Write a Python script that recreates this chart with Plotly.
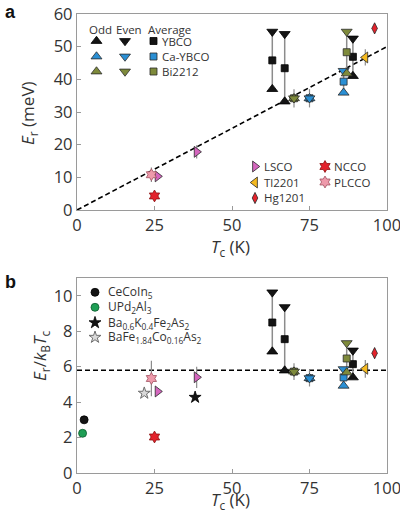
import plotly.graph_objects as go

# ---------------- data ----------------
x_ticks = [0, 25, 50, 75, 100]
ya_ticks = [0, 10, 20, 30, 40, 50, 60]
yb_ticks = [0, 2, 4, 6, 8, 10]

# panel a : E_r (meV)
ybco_tc = [63, 67, 89]
ybco_odd_a = [37.0, 33.2, 41.0]
ybco_even_a = [54.6, 53.9, 52.5]
ybco_avg_a = [45.8, 43.4, 46.9]

ca_tc = [75, 86]
ca_odd_a = [34.2, 35.9]
ca_even_a = [34.2, 42.6]
ca_avg_a = [34.2, 39.3]
ca_err_a = [2.8, 0]

bi_tc = [70, 87]
bi_odd_a = [34.2, 41.8]
bi_even_a = [34.2, 54.6]
bi_avg_a = [34.2, 48.3]
bi_err_a = [2.8, 0]

lsco_tc = [26, 38.6]
lsco_a = [10.3, 17.8]
lsco_err_a = [0, 2.0]

tl_tc = [93]
tl_a = [46.7]
tl_err_a = [2.5]

hg_tc = [96]
hg_a = [55.6]
hg_err_a = [1.5]

ncco_tc = [25]
ncco_a = [4.3]
ncco_err_a = [1.1]

plcco_tc = [24]
plcco_a = [10.8]
plcco_err_a = [2.2]

guide_x = [0, 100]
guide_a = [0, 50]

# panel b : E_r / k_B T_c
ybco_odd_b = [6.85, 5.78, 5.39]
ybco_even_b = [10.19, 9.36, 6.91]
ybco_avg_b = [8.49, 7.55, 6.14]

ca_odd_b = [5.35, 4.92]
ca_even_b = [5.35, 5.86]
ca_avg_b = [5.35, 5.39]
ca_err_b = [0.47, 0]

bi_odd_b = [5.72, 5.67]
bi_even_b = [5.72, 7.33]
bi_avg_b = [5.72, 6.46]
bi_err_b = [0.47, 0]

lsco_b = [4.6, 5.4]
lsco_err_b = [0, 0.6]
tl_b = [5.88]
tl_err_b = [0.5]
hg_b = [6.76]
hg_err_b = [0.3]
ncco_b = [2.03]
ncco_err_b = [0.2]
plcco_b = [5.33]
plcco_err_b = [1.0]

cecoin_tc = [2.3]
cecoin_b = [3.0]
upd_tc = [1.8]
upd_b = [2.24]
bak_tc = [38.1]
bak_b = [4.27]
bafe_tc = [21.7]
bafe_b = [4.5]

guide_b = [5.8, 5.8]

# ---------------- layout helpers ----------------
W, H = 400, 523
PL, PR, PT, PB = 77, 387, 14, 473          # plot area in pixels
ML, MT, MR, MB = PL, PT, W - PR, H - PB
PW = PR - PL
PH = PB - PT


def fx(px):
    return (px - PL) / PW


def fy(py):
    return (PB - py) / PH


FONT = "Open Sans, sans-serif"
TXT = "#333333"
GREY = "#8c8c8c"

BLACK = "#141414"
BLUE = "#2a8fd4"
OLIVE = "#7e8a3b"
PINK = "#d466be"
GOLD = "#f4b920"
RED = "#e3222b"
ROSE = "#ee9aab"
GREEN = "#1e9e55"
EDGE = "#2a2a2a"
DASH = "5px,3px"

fig = go.Figure()
legends = {}
annos = []
count = [0]


def add(x, y, panel, symbol, color, size, err=None, edge=EDGE, lw=0.8,
        key=None, label=None, label_px=None, lsize=12):
    ax = dict(xaxis="x", yaxis="y") if panel == "a" else dict(xaxis="x2", yaxis="y2")
    tr = go.Scatter(
        x=x, y=y, mode="markers", **ax,
        marker=dict(symbol=symbol, color=color, size=size,
                    line=dict(color=edge, width=lw)),
        showlegend=False, name=label or " ",
        cliponaxis=False,
    )
    if err is not None:
        tr.update(error_y=dict(type="data", array=err, visible=True,
                               color=GREY, thickness=1.2, width=0))
    if key is not None:
        count[0] += 1
        lk = "legend" if count[0] == 1 else f"legend{count[0]}"
        tr.update(showlegend=True, legend=lk, name=" ")
        mx, my = key
        legends[lk] = dict(x=fx(mx - 20), y=fy(my), xanchor="left", yanchor="middle",
                           bgcolor="rgba(0,0,0,0)", borderwidth=0,
                           font=dict(size=10, family=FONT),
                           itemclick=False, itemdoubleclick=False)
        if label is not None:
            annos.append(dict(text=label, x=fx(label_px), y=fy(my), xref="paper",
                              yref="paper", xanchor="left", yanchor="middle",
                              showarrow=False,
                              font=dict(size=lsize, family=FONT, color=TXT)))
    fig.add_trace(tr)


def pair_lines(tcs, odd, even, panel):
    xs, ys = [], []
    for t, o, e in zip(tcs, odd, even):
        xs += [t, t, None]
        ys += [o, e, None]
    ax = dict(xaxis="x", yaxis="y") if panel == "a" else dict(xaxis="x2", yaxis="y2")
    fig.add_trace(go.Scatter(x=xs, y=ys, mode="lines", **ax, showlegend=False,
                             line=dict(color=GREY, width=1.5), hoverinfo="skip"))


# ---------------- panel a ----------------
fig.add_trace(go.Scatter(x=guide_x, y=guide_a, mode="lines", xaxis="x", yaxis="y",
                         showlegend=False,
                         line=dict(color="black", width=1.6, dash=DASH)))
pair_lines(ybco_tc, ybco_odd_a, ybco_even_a, "a")
pair_lines(ca_tc, ca_odd_a, ca_even_a, "a")
pair_lines(bi_tc, bi_odd_a, bi_even_a, "a")

rows = [41, 56.5, 71.5]
cols = [96.5, 125, 153.5]
names = ["YBCO", "Ca-YBCO", "Bi2212"]
groups = [
    (ybco_tc, ybco_odd_a, ybco_even_a, ybco_avg_a, None, BLACK, "#000000"),
    (ca_tc, ca_odd_a, ca_even_a, ca_avg_a, ca_err_a, BLUE, EDGE),
    (bi_tc, bi_odd_a, bi_even_a, bi_avg_a, bi_err_a, OLIVE, EDGE),
]
for i, (tc, od, ev, av, er, col, ed) in enumerate(groups):
    add(tc, av, "a", "square", col, 7, err=er, edge=ed, key=(cols[2], rows[i]),
        label=names[i], label_px=160, lsize=11.5)
    add(tc, od, "a", "triangle-up", col, 9.5, edge=ed, key=(cols[0], rows[i]))
    add(tc, ev, "a", "triangle-down", col, 9.5, edge=ed, key=(cols[1], rows[i]))

add(lsco_tc, lsco_a, "a", "triangle-right", PINK, 9.5, err=lsco_err_a,
    key=(255, 166.5), label="LSCO", label_px=262, lsize=11.5)
add(tl_tc, tl_a, "a", "triangle-left", GOLD, 9.5, err=tl_err_a,
    key=(255, 182.5), label="Tl2201", label_px=262, lsize=11.5)
add(hg_tc, hg_a, "a", "diamond-tall", RED, 8, err=hg_err_a,
    key=(255, 198), label="Hg1201", label_px=262, lsize=11.5)
add(ncco_tc, ncco_a, "a", "hexagram", RED, 9, err=ncco_err_a, edge="#8a1010",
    key=(325, 166.5), label="NCCO", label_px=332, lsize=11.5)
add(plcco_tc, plcco_a, "a", "hexagram", ROSE, 9, err=plcco_err_a, edge="#a05060",
    key=(325, 182), label="PLCCO", label_px=332, lsize=11.5)

for txt, cx in [("Odd", 100), ("Even", 128.5), ("Average", 169)]:
    annos.append(dict(text=txt, x=fx(cx), y=fy(29), xref="paper", yref="paper",
                      xanchor="center", yanchor="middle", showarrow=False,
                      font=dict(size=11.5, family=FONT, color=TXT)))

# ---------------- panel b ----------------
fig.add_trace(go.Scatter(x=guide_x, y=guide_b, mode="lines", xaxis="x2", yaxis="y2",
                         showlegend=False,
                         line=dict(color="black", width=1.6, dash=DASH)))
pair_lines(ybco_tc, ybco_odd_b, ybco_even_b, "b")
pair_lines(ca_tc, ca_odd_b, ca_even_b, "b")
pair_lines(bi_tc, bi_odd_b, bi_even_b, "b")

groups_b = [
    (ybco_tc, ybco_odd_b, ybco_even_b, ybco_avg_b, None, BLACK, "#000000"),
    (ca_tc, ca_odd_b, ca_even_b, ca_avg_b, ca_err_b, BLUE, EDGE),
    (bi_tc, bi_odd_b, bi_even_b, bi_avg_b, bi_err_b, OLIVE, EDGE),
]
for tc, od, ev, av, er, col, ed in groups_b:
    add(tc, av, "b", "square", col, 7, err=er, edge=ed)
    add(tc, od, "b", "triangle-up", col, 9.5, edge=ed)
    add(tc, ev, "b", "triangle-down", col, 9.5, edge=ed)

add(lsco_tc, lsco_b, "b", "triangle-right", PINK, 9.5, err=lsco_err_b)
add(tl_tc, tl_b, "b", "triangle-left", GOLD, 9.5, err=tl_err_b)
add(hg_tc, hg_b, "b", "diamond-tall", RED, 8, err=hg_err_b)
add(ncco_tc, ncco_b, "b", "hexagram", RED, 9, err=ncco_err_b, edge="#8a1010")
add(plcco_tc, plcco_b, "b", "hexagram", ROSE, 9, err=plcco_err_b, edge="#a05060")

add(cecoin_tc, cecoin_b, "b", "circle", BLACK, 8, edge="#000000",
    key=(95, 292.3), label="CeCoIn<sub>5</sub>", label_px=106)
add(upd_tc, upd_b, "b", "circle", GREEN, 8, edge="#0d5a2d",
    key=(95, 307.3), label="UPd<sub>2</sub>Al<sub>3</sub>", label_px=106)
add(bak_tc, bak_b, "b", "star", BLACK, 9, edge="#000000",
    key=(95, 322.7), label="Ba<sub>0.6</sub>K<sub>0.4</sub>Fe<sub>2</sub>As<sub>2</sub>",
    label_px=106)
add(bafe_tc, bafe_b, "b", "star", "#d9d9d9", 9, edge="#6e6e6e", lw=1,
    key=(95, 337.3),
    label="BaFe<sub>1.84</sub>Co<sub>0.16</sub>As<sub>2</sub>", label_px=106)

# panel letters
for txt, py in [("<b>a</b>", 12), ("<b>b</b>", 282)]:
    annos.append(dict(text=txt, x=fx(10), y=fy(py), xref="paper", yref="paper",
                      xanchor="center", yanchor="middle", showarrow=False,
                      font=dict(size=18, family="Arial, sans-serif", color="#111")))

# axis titles
title_font = dict(size=17, family=FONT, color=TXT)
for txt, px, py, ang in [
    ("<i>T</i><sub>c</sub> (K)", 230, 247, 0),
    ("<i>T</i><sub>c</sub> (K)", 230, 501, 0),
    ("<i>E</i><sub>r</sub> (meV)", 28, 113, -90),
    ("<i>E</i><sub>r</sub>/<i>k</i><sub>B</sub><i>T</i><sub>c</sub>", 40, 356, -90),
]:
    annos.append(dict(text=txt, x=fx(px), y=fy(py), xref="paper", yref="paper",
                      xanchor="center", yanchor="middle", showarrow=False,
                      textangle=ang, font=title_font))

axis_common = dict(
    showgrid=False, zeroline=False, showline=True, linecolor="#9a9a9a",
    linewidth=1.3, mirror=True, ticks="inside", ticklen=4, tickcolor="#9a9a9a",
    tickwidth=1, tickfont=dict(size=16.5, family=FONT, color=TXT),
    ticklabeloverflow="allow",
)

fig.update_layout(
    width=W, height=H,
    margin=dict(l=ML, r=MR, t=MT, b=MB, autoexpand=False),
    paper_bgcolor="white", plot_bgcolor="white",
    xaxis=dict(domain=[0, 1], anchor="y", range=[0, 100], tickvals=x_ticks,
               **axis_common),
    yaxis=dict(domain=[fy(210), 1], anchor="x", range=[0, 60], tickvals=ya_ticks,
               **axis_common),
    xaxis2=dict(domain=[0, 1], anchor="y2", range=[0, 100], tickvals=x_ticks,
                **axis_common),
    yaxis2=dict(domain=[0, fy(278)], anchor="x2", range=[0, 11], tickvals=yb_ticks,
                **axis_common),
    annotations=annos,
    **legends,
)

# remove the default 8 px page margin so the 400x523 figure fills the window
fig.write_html("out.html",
               config={"displayModeBar": False},
               post_script="document.body.style.margin='0';"
                           "document.body.style.overflow='hidden';")
